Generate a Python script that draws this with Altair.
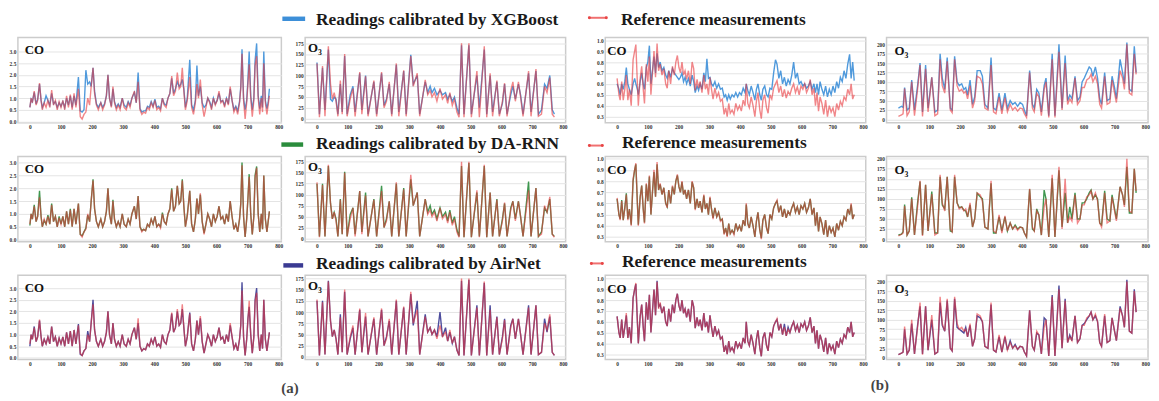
import altair as alt
import pandas as pd

SERIF = "Liberation Serif, DejaVu Serif, serif"

# ---------------- (a) CO ----------------
T_CO_A = [0, 4, 8, 14, 20, 25, 31, 36, 40, 46,
          52, 58, 64, 70, 76, 82, 88, 94, 100, 106,
          112, 118, 124, 130, 136, 142, 148, 156, 162, 168,
          174, 180, 186, 192, 197, 203, 208, 214, 220, 228,
          234, 240, 246, 251, 256, 262, 267, 272, 278, 284,
          290, 297, 303, 310, 316, 322, 328, 336, 342, 348,
          354, 360, 366, 372, 378, 384, 390, 396, 402, 408,
          414, 420, 426, 432, 438, 444, 450, 456, 462, 468,
          474, 480, 485, 490, 495, 500, 506, 514, 520, 526,
          532, 537, 542, 548, 554, 560, 566, 572, 578, 584,
          590, 596, 602, 608, 614, 620, 626, 632, 638, 644,
          650, 656, 662, 668, 674, 678, 682, 687, 692, 697,
          701, 705, 710, 715, 720, 724, 729, 734, 739, 744,
          748, 752, 757, 762, 766, 770]
REF_CO_A = [0.6, 1.0, 0.8, 1.3, 0.7, 0.9, 1.65, 0.9, 0.5, 0.8,
            0.6, 0.9, 0.6, 1.35, 0.7, 0.9, 0.5, 0.85, 0.6, 0.9,
            0.5, 1.1, 0.6, 1.15, 0.5, 1.2, 0.6, 1.4, 0.2, 0.1,
            0.3, 0.4, 1.0, 0.7, 1.5, 2.3, 1.2, 0.7, 0.5, 0.8,
            0.5, 0.7, 1.1, 2.0, 1.0, 0.6, 1.5, 0.8, 0.5, 0.7,
            0.5, 1.0, 0.6, 0.5, 0.8, 0.6, 1.0, 1.3, 0.8, 1.7,
            0.5, 0.3, 0.4, 0.35, 0.6, 0.5, 0.8, 0.6, 0.9, 0.5,
            0.6, 0.45, 1.0, 0.7, 0.6, 1.0, 1.2, 1.95, 1.1, 1.3,
            2.1, 1.4, 1.5, 2.3, 1.3, 0.5, 0.9, 1.9, 0.6, 0.3,
            0.8, 1.6, 1.0, 1.8, 0.7, 0.2, 0.6, 1.0, 0.8, 0.5,
            1.0, 0.7, 0.9, 1.3, 0.8, 0.9, 0.6, 1.0, 0.7, 1.5,
            0.9, 0.4, 0.6, 0.3, 0.8, 1.4, 2.9, 0.9, 0.1, 0.8,
            1.6, 2.45, 1.0, 0.2, 0.9, 2.4, 2.8, 1.0, 0.3, 1.0,
            0.4, 2.5, 0.8, 0.3, 0.7, 1.1]
XGB_CO_A = [0.6, 0.95, 0.85, 1.25, 0.75, 0.95, 1.6, 0.9, 0.6, 0.8,
            1.1, 0.9, 0.7, 1.2, 0.75, 0.85, 0.6, 0.8, 0.65, 0.85,
            0.6, 1.0, 0.7, 1.1, 0.6, 1.1, 0.7, 1.9, 0.45, 0.4,
            0.5, 2.2, 1.6, 1.7, 1.5, 2.3, 1.3, 0.75, 0.6, 0.8,
            0.6, 0.75, 1.1, 2.0, 1.0, 0.65, 1.4, 0.85, 0.6, 0.75,
            0.6, 1.0, 0.7, 0.6, 0.85, 0.7, 1.0, 1.25, 0.8, 2.1,
            0.55, 0.4, 0.45, 0.45, 0.65, 0.6, 0.85, 0.65, 0.95, 0.6,
            0.65, 0.55, 1.0, 0.75, 0.7, 1.0, 1.2, 1.85, 1.2, 1.4,
            1.7, 1.5, 1.6, 1.8, 1.4, 0.6, 1.0, 2.65, 0.7, 0.5,
            0.9, 2.4, 1.1, 1.5, 0.8, 0.6, 0.7, 1.0, 0.85, 0.6,
            1.0, 0.75, 0.9, 1.2, 0.85, 0.9, 0.7, 1.0, 0.75, 1.4,
            0.9, 0.5, 0.65, 0.45, 0.85, 1.5, 3.1, 1.0, 0.5, 0.9,
            1.8, 3.0, 1.1, 0.5, 1.0, 2.6, 3.35, 1.1, 0.55, 1.1,
            0.6, 3.0, 0.9, 0.55, 0.8, 1.4]
DARNN_CO_A = [0.55, 1.0, 0.8, 1.35, 0.7, 0.9, 1.9, 0.9, 0.5, 0.75,
              0.6, 0.95, 0.6, 1.4, 0.7, 0.9, 0.5, 0.9, 0.6, 0.9,
              0.5, 1.1, 0.6, 1.2, 0.5, 1.2, 0.6, 1.4, 0.2, 0.15,
              0.3, 0.45, 0.95, 0.7, 1.5, 2.35, 1.2, 0.7, 0.5, 0.8,
              0.5, 0.7, 1.1, 2.0, 1.0, 0.6, 1.55, 0.8, 0.5, 0.7,
              0.5, 1.0, 0.6, 0.5, 0.8, 0.6, 1.0, 1.3, 0.8, 1.7,
              0.5, 0.35, 0.4, 0.35, 0.6, 0.5, 0.8, 0.6, 0.9, 0.5,
              0.6, 0.5, 1.05, 0.7, 0.6, 1.0, 1.2, 2.0, 1.1, 1.3,
              2.1, 1.4, 1.5, 2.35, 1.3, 0.5, 0.95, 1.9, 0.6, 0.3,
              0.8, 1.6, 1.0, 1.75, 0.7, 0.25, 0.6, 1.0, 0.8, 0.5,
              1.0, 0.7, 0.9, 1.3, 0.8, 0.9, 0.6, 1.0, 0.7, 1.5,
              0.9, 0.4, 0.6, 0.3, 0.8, 1.4, 3.0, 0.9, 0.1, 0.8,
              1.6, 2.55, 1.0, 0.2, 0.9, 2.5, 2.85, 1.0, 0.3, 1.0,
              0.4, 2.5, 0.8, 0.3, 0.7, 1.1]
AIRNET_CO_A = [0.5, 1.0, 0.8, 1.35, 0.7, 0.9, 1.6, 0.9, 0.5, 0.8,
               0.6, 0.9, 0.6, 1.35, 0.7, 0.9, 0.5, 0.85, 0.6, 0.9,
               0.5, 1.1, 0.6, 1.15, 0.5, 1.2, 0.6, 1.45, 0.15, 0.1,
               0.3, 0.4, 1.15, 0.7, 1.5, 2.5, 1.2, 0.7, 0.5, 0.8,
               0.5, 0.7, 1.1, 2.0, 1.0, 0.6, 1.5, 0.8, 0.5, 0.7,
               0.5, 1.0, 0.6, 0.5, 0.8, 0.6, 1.0, 1.3, 0.8, 1.5,
               0.5, 0.3, 0.4, 0.35, 0.6, 0.5, 0.8, 0.6, 0.9, 0.5,
               0.6, 0.45, 1.0, 0.7, 0.6, 1.0, 1.2, 1.9, 1.1, 1.3,
               2.0, 1.4, 1.5, 2.1, 1.3, 0.5, 0.9, 1.95, 0.6, 0.3,
               0.8, 1.6, 1.0, 1.7, 0.7, 0.2, 0.6, 1.0, 0.8, 0.5,
               1.0, 0.7, 0.9, 1.3, 0.8, 0.9, 0.6, 1.0, 0.7, 1.4,
               0.9, 0.4, 0.6, 0.3, 0.8, 1.4, 3.25, 0.9, 0.1, 0.8,
               1.7, 2.2, 1.0, 0.2, 0.9, 2.5, 3.0, 1.0, 0.3, 1.0,
               0.4, 2.5, 0.8, 0.3, 0.7, 1.1]

# ---------------- (a) O3 ----------------
T_O3_A = [0, 8, 18, 26, 37, 44, 50, 56, 62, 68,
          76, 82, 90, 98, 108, 117, 124, 139, 146, 158,
          166, 185, 194, 210, 218, 226, 235, 243, 258, 266,
          282, 290, 305, 313, 326, 334, 352, 360, 368, 374,
          382, 390, 400, 408, 418, 425, 432, 440, 447, 455,
          462, 470, 478, 494, 502, 520, 528, 544, 552, 563,
          571, 585, 593, 603, 610, 618, 630, 637, 645, 655,
          662, 670, 688, 696, 712, 720, 730, 740, 748, 757,
          765, 772]
REF_O3_A = [128, 3, 122, 5, 168, 80, 45, 60, 40, 5,
            88, 10, 150, 5, 45, 70, 5, 108, 10, 98,
            5, 88, 5, 108, 25, 40, 85, 5, 128, 5,
            112, 5, 145, 75, 105, 5, 90, 55, 65, 50,
            60, 40, 70, 45, 55, 35, 60, 30, 45, 15,
            3, 175, 3, 175, 3, 110, 3, 168, 3, 105,
            5, 88, 5, 40, 82, 5, 65, 85, 40, 85,
            50, 5, 110, 5, 115, 5, 10, 75, 60, 95,
            10, 3]
XGB_O3_A = [130, 10, 118, 20, 160, 45, 40, 50, 45, 10,
            80, 15, 145, 10, 55, 75, 15, 105, 20, 100,
            10, 85, 10, 105, 30, 45, 80, 10, 125, 15,
            110, 10, 148, 80, 100, 10, 85, 60, 75, 60,
            70, 55, 65, 55, 60, 45, 55, 40, 50, 25,
            10, 170, 10, 170, 10, 100, 25, 160, 10, 100,
            15, 85, 10, 35, 80, 10, 55, 75, 45, 80,
            55, 10, 105, 15, 110, 10, 20, 80, 70, 100,
            20, 10]
DARNN_O3_A = [125, 5, 125, 5, 165, 80, 45, 60, 45, 5,
              90, 10, 152, 5, 55, 70, 10, 108, 15, 105,
              5, 90, 5, 120, 25, 45, 85, 5, 125, 5,
              115, 5, 135, 75, 105, 5, 90, 60, 75, 55,
              65, 45, 70, 50, 60, 40, 65, 35, 50, 20,
              5, 165, 3, 172, 3, 105, 5, 165, 3, 105,
              5, 90, 5, 45, 80, 5, 70, 85, 45, 85,
              50, 5, 130, 5, 115, 5, 15, 70, 60, 90,
              10, 5]
AIRNET_O3_A = [125, 3, 125, 5, 170, 80, 45, 60, 40, 5,
               95, 10, 145, 5, 40, 65, 5, 105, 10, 90,
               5, 85, 5, 105, 25, 45, 80, 5, 125, 5,
               110, 5, 140, 70, 125, 5, 95, 55, 65, 50,
               60, 45, 100, 45, 65, 35, 55, 30, 45, 15,
               3, 170, 3, 172, 3, 115, 3, 165, 3, 115,
               5, 90, 5, 45, 85, 5, 70, 85, 40, 85,
               50, 5, 115, 5, 115, 5, 10, 85, 55, 90,
               10, 3]

# ---------------- (b) CO ----------------
T_CO_B = [0, 6, 10, 15, 20, 25, 30, 35, 40, 46,
          52, 57, 61, 66, 69, 75, 80, 85, 89, 95,
          100, 105, 110, 115, 120, 125, 130, 135, 140, 146,
          152, 158, 163, 168, 174, 180, 186, 191, 196, 201,
          206, 211, 216, 221, 226, 232, 238, 244, 249, 254,
          260, 265, 270, 276, 282, 287, 292, 297, 302, 307,
          312, 318, 324, 330, 336, 342, 348, 353, 358, 363,
          368, 374, 380, 386, 392, 398, 404, 410, 416, 420,
          425, 430, 436, 442, 448, 453, 458, 464, 469, 474,
          480, 486, 491, 497, 503, 509, 515, 520, 526, 532,
          538, 544, 550, 556, 562, 568, 574, 580, 586, 592,
          598, 604, 610, 616, 622, 628, 634, 640, 645, 650,
          655, 660, 666, 672, 678, 684, 690, 696, 702, 708,
          714, 720, 726, 732, 738, 744, 750, 756, 761, 766,
          771]
REF_CO_B = [0.65, 0.5, 0.45, 0.62, 0.45, 0.55, 0.68, 0.45, 0.55, 0.4,
            0.82, 0.9, 0.96, 0.6, 0.4, 0.65, 0.76, 0.55, 0.42, 0.78,
            0.62, 0.85, 0.5, 0.7, 0.9, 0.66, 0.97, 0.72, 0.78, 0.68,
            0.74, 0.6, 0.56, 0.72, 0.6, 0.76, 0.68, 0.8, 0.86, 0.75,
            0.7, 0.8, 0.68, 0.72, 0.64, 0.72, 0.6, 0.8, 0.74, 0.54,
            0.64, 0.56, 0.62, 0.52, 0.68, 0.55, 0.6, 0.5, 0.66, 0.55,
            0.46, 0.56, 0.48, 0.52, 0.44, 0.46, 0.32, 0.38, 0.3, 0.42,
            0.33, 0.36, 0.32, 0.42, 0.36, 0.4, 0.35, 0.45, 0.4, 0.6,
            0.42, 0.38, 0.48, 0.4, 0.3, 0.44, 0.52, 0.36, 0.28, 0.45,
            0.5, 0.38, 0.33, 0.5, 0.46, 0.56, 0.6, 0.63, 0.52, 0.58,
            0.48, 0.55, 0.47, 0.53, 0.5, 0.56, 0.6, 0.52, 0.57, 0.5,
            0.58, 0.55, 0.6, 0.52, 0.56, 0.64, 0.5, 0.56, 0.4, 0.52,
            0.35, 0.48, 0.42, 0.32, 0.45, 0.3, 0.4, 0.34, 0.38, 0.3,
            0.42, 0.36, 0.44, 0.4, 0.48, 0.45, 0.55, 0.5, 0.6, 0.46,
            0.5]
XGB_CO_B = [0.6, 0.55, 0.5, 0.6, 0.55, 0.62, 0.75, 0.6, 0.55, 0.5,
            0.6, 0.65, 0.6, 0.55, 0.5, 0.62, 0.7, 0.6, 0.55, 0.75,
            0.8, 0.95, 0.6, 0.72, 0.85, 0.7, 0.88, 0.75, 0.8, 0.72,
            0.75, 0.68, 0.65, 0.72, 0.66, 0.74, 0.7, 0.68, 0.66, 0.64,
            0.66, 0.7, 0.62, 0.66, 0.6, 0.65, 0.58, 0.68, 0.62, 0.52,
            0.58, 0.54, 0.6, 0.55, 0.7, 0.62, 0.83, 0.65, 0.66, 0.6,
            0.58, 0.62, 0.56, 0.6, 0.55, 0.56, 0.48, 0.5, 0.45, 0.5,
            0.46, 0.5, 0.48, 0.52, 0.48, 0.52, 0.5, 0.56, 0.52, 0.6,
            0.54, 0.5, 0.58, 0.52, 0.45, 0.55, 0.6, 0.5, 0.45, 0.55,
            0.58, 0.5, 0.48, 0.56, 0.55, 0.7, 0.82, 0.78, 0.65, 0.72,
            0.6, 0.66, 0.58, 0.64, 0.6, 0.68, 0.8, 0.65, 0.7, 0.6,
            0.62, 0.58, 0.6, 0.56, 0.58, 0.62, 0.55, 0.6, 0.52, 0.6,
            0.5, 0.62, 0.55, 0.5, 0.58, 0.48, 0.55, 0.5, 0.58, 0.52,
            0.62, 0.56, 0.66, 0.62, 0.72, 0.65, 0.78, 0.87, 0.65, 0.8,
            0.63]
DARNN_CO_B = [0.64, 0.5, 0.46, 0.63, 0.45, 0.56, 0.69, 0.46, 0.55, 0.41,
              0.8, 0.9, 0.95, 0.6, 0.41, 0.66, 0.76, 0.55, 0.43, 0.77,
              0.62, 0.84, 0.5, 0.7, 0.88, 0.66, 0.95, 0.72, 0.77, 0.68,
              0.74, 0.6, 0.57, 0.72, 0.6, 0.75, 0.68, 0.8, 0.85, 0.75,
              0.7, 0.79, 0.68, 0.72, 0.64, 0.72, 0.6, 0.79, 0.74, 0.55,
              0.64, 0.56, 0.62, 0.52, 0.67, 0.55, 0.6, 0.5, 0.65, 0.55,
              0.47, 0.56, 0.48, 0.52, 0.45, 0.46, 0.33, 0.38, 0.31, 0.42,
              0.33, 0.36, 0.33, 0.42, 0.36, 0.4, 0.35, 0.45, 0.4, 0.59,
              0.42, 0.38, 0.48, 0.4, 0.3, 0.44, 0.52, 0.36, 0.29, 0.45,
              0.5, 0.38, 0.33, 0.5, 0.46, 0.56, 0.6, 0.62, 0.52, 0.58,
              0.48, 0.55, 0.47, 0.53, 0.5, 0.56, 0.6, 0.52, 0.57, 0.5,
              0.58, 0.55, 0.6, 0.52, 0.56, 0.64, 0.5, 0.56, 0.4, 0.52,
              0.35, 0.48, 0.42, 0.32, 0.45, 0.3, 0.4, 0.34, 0.38, 0.3,
              0.42, 0.36, 0.44, 0.4, 0.48, 0.45, 0.55, 0.5, 0.59, 0.46,
              0.5]
AIRNET_CO_B = [0.65, 0.5, 0.45, 0.62, 0.45, 0.55, 0.66, 0.45, 0.55, 0.4,
               0.82, 0.9, 0.95, 0.6, 0.4, 0.65, 0.76, 0.55, 0.42, 0.78,
               0.62, 0.85, 0.5, 0.7, 0.9, 0.66, 0.98, 0.74, 0.76, 0.68,
               0.74, 0.6, 0.56, 0.72, 0.6, 0.76, 0.68, 0.8, 0.86, 0.75,
               0.7, 0.8, 0.68, 0.72, 0.64, 0.72, 0.6, 0.8, 0.74, 0.54,
               0.64, 0.56, 0.62, 0.52, 0.68, 0.55, 0.6, 0.5, 0.66, 0.55,
               0.46, 0.56, 0.48, 0.52, 0.44, 0.46, 0.32, 0.38, 0.3, 0.42,
               0.33, 0.36, 0.32, 0.42, 0.36, 0.4, 0.35, 0.45, 0.4, 0.6,
               0.42, 0.38, 0.48, 0.4, 0.3, 0.44, 0.52, 0.36, 0.28, 0.45,
               0.5, 0.38, 0.33, 0.5, 0.46, 0.56, 0.6, 0.62, 0.52, 0.58,
               0.48, 0.58, 0.47, 0.55, 0.5, 0.56, 0.6, 0.52, 0.57, 0.5,
               0.58, 0.55, 0.6, 0.52, 0.56, 0.64, 0.5, 0.56, 0.4, 0.52,
               0.35, 0.48, 0.42, 0.32, 0.45, 0.3, 0.4, 0.34, 0.38, 0.3,
               0.42, 0.36, 0.44, 0.4, 0.48, 0.45, 0.55, 0.5, 0.6, 0.46,
               0.5]

# ---------------- (b) O3 ----------------
T_O3_B = [0, 10, 15, 20, 28, 35, 43, 52, 62, 70,
          78, 88, 96, 108, 118, 127, 135, 142, 150, 158,
          168, 174, 182, 190, 197, 205, 212, 218, 224, 232,
          240, 247, 255, 265, 272, 280, 290, 300, 308, 316,
          326, 335, 345, 353, 362, 370, 378, 386, 394, 402,
          408, 415, 425, 434, 440, 448, 455, 463, 472, 478,
          487, 498, 507, 520, 530, 540, 548, 555, 562, 572,
          580, 588, 595, 602, 610, 618, 624, 630, 638, 645,
          652, 658, 668, 676, 685, 692, 700, 706, 718, 726,
          732, 740, 748, 756, 764, 770]
REF_O3_B = [8, 12, 15, 82, 10, 20, 100, 10, 80, 145,
            8, 135, 20, 112, 10, 15, 160, 90, 70, 155,
            25, 18, 160, 90, 75, 80, 70, 75, 55, 90,
            30, 50, 115, 110, 95, 30, 25, 145, 20, 15,
            60, 15, 58, 20, 40, 25, 32, 22, 30, 28,
            15, 5, 125, 30, 20, 70, 60, 10, 80, 100,
            5, 160, 5, 180, 25, 150, 40, 55, 45, 110,
            40, 50, 85, 85, 105, 110, 120, 100, 115, 95,
            40, 30, 115, 40, 45, 105, 70, 45, 130, 110,
            80, 200, 70, 65, 175, 120]
XGB_O3_B = [30, 35, 32, 85, 25, 30, 105, 25, 90, 150,
            20, 145, 30, 112, 20, 25, 175, 110, 80, 165,
            30, 25, 168, 100, 90, 95, 80, 85, 65, 105,
            40, 60, 130, 130, 115, 40, 30, 165, 30, 25,
            70, 25, 70, 30, 50, 40, 45, 35, 45, 40,
            25, 10, 130, 40, 30, 80, 70, 20, 90, 110,
            10, 175, 10, 200, 30, 170, 50, 65, 55, 115,
            50, 60, 100, 110, 125, 140, 135, 115, 140, 110,
            55, 40, 125, 50, 55, 115, 85, 55, 160, 125,
            95, 205, 80, 75, 195, 125]
DARNN_O3_B = [10, 12, 18, 86, 10, 20, 104, 10, 90, 143,
              10, 135, 20, 118, 15, 15, 155, 85, 75, 155,
              20, 18, 155, 90, 78, 80, 72, 70, 55, 85,
              30, 50, 114, 105, 100, 30, 25, 139, 15, 15,
              55, 20, 55, 20, 40, 25, 35, 25, 30, 28,
              15, 5, 124, 25, 20, 75, 60, 10, 122, 100,
              5, 151, 5, 171, 30, 115, 40, 80, 50, 115,
              50, 50, 90, 90, 100, 115, 122, 100, 110, 100,
              40, 35, 120, 50, 45, 110, 75, 50, 130, 110,
              85, 180, 65, 65, 175, 115]
AIRNET_O3_B = [8, 12, 15, 75, 10, 20, 90, 10, 85, 135,
               10, 135, 20, 100, 10, 15, 145, 85, 70, 150,
               25, 18, 155, 80, 75, 70, 65, 80, 55, 85,
               30, 50, 110, 105, 95, 30, 25, 140, 20, 15,
               55, 15, 55, 20, 45, 25, 35, 22, 30, 28,
               15, 5, 125, 30, 20, 65, 60, 10, 105, 100,
               5, 165, 5, 190, 25, 155, 40, 60, 45, 110,
               40, 50, 85, 90, 100, 110, 120, 100, 110, 95,
               40, 30, 110, 40, 45, 105, 70, 45, 135, 110,
               80, 205, 70, 65, 180, 120]

# ---------------- labels / ticks ----------------
X_TICKS = [0, 100, 200, 300, 400, 500, 600, 700, 800]
CO_A_TICKS = [0.0, 0.5, 1.0, 1.5, 2.0, 2.5, 3.0]
O3_A_TICKS = [0, 25, 50, 75, 100, 125, 150, 175]
CO_B_TICKS = [0.3, 0.4, 0.5, 0.6, 0.7, 0.8, 0.9, 1.0]
O3_B_TICKS = [0, 25, 50, 75, 100, 125, 150, 175, 200]
LEGEND_MODELS = ["Readings calibrated by XGBoost", "Readings calibrated by DA-RNN",
                 "Readings calibrated by AirNet"]
LEGEND_REF = "Reference measurements"
PART_LABELS = ["(a)", "(b)"]

REF_COLOR = "#e8363a"
CAL_COLORS = ["#3d8fd8", "#2a8c3c", "#3a3a92"]

COLS = [
    dict(t=T_CO_A, ref=REF_CO_A, cal=[XGB_CO_A, DARNN_CO_A, AIRNET_CO_A],
         label="CO", ticks=CO_A_TICKS, fmt=".1f"),
    dict(t=T_O3_A, ref=REF_O3_A, cal=[XGB_O3_A, DARNN_O3_A, AIRNET_O3_A],
         label="O₃", ticks=O3_A_TICKS, fmt="d"),
    dict(t=T_CO_B, ref=REF_CO_B, cal=[XGB_CO_B, DARNN_CO_B, AIRNET_CO_B],
         label="CO", ticks=CO_B_TICKS, fmt=".1f"),
    dict(t=T_O3_B, ref=REF_O3_B, cal=[XGB_O3_B, DARNN_O3_B, AIRNET_O3_B],
         label="O₃", ticks=O3_B_TICKS, fmt="d"),
]

Y_DOMAINS = [
    [(-0.06, 3.6), (-10, 188), (0.243, 1.024), (-9, 218)],
    [(-0.08, 3.24), (-7, 187), (0.258, 1.02), (-6.4, 205.6)],
    [(-0.07, 3.55), (-6, 182), (0.25, 1.031), (-4.5, 216.6)],
]
X_DOMAIN = [-38.5, 808.5]
WIDTHS = [266, 263, 263, 264]
GAPS = [9, 24, 40, 21]          # blank space left of each panel
HEIGHTS = [86, 86, 85]
ROW_GAP = 34
LAB_X = [7, 3, 2, 8]
LAB_Y = [13, 11, 14, 14]
LEGEND_SIZE = 17.5

# legend placement relative to the panel it is attached to (per row)
CAL_SWATCH = [(-23, 0, -19), (-24, -2, -12), (-22, -2, -10)]
CAL_TEXT = [(11, -18), (11, -13), (11, -11)]
REF_SWATCH = [(-17, 2, -20), (-17, -2, -11), (-15, -2, -12)]
REF_TEXT = [(16, -18), (17, -14), (17, -13)]

ONE = pd.DataFrame({"k": [0]})
CLEAR = alt.ViewBackground(stroke="transparent")


def txt(s, x, y, size, color):
    return alt.Chart(ONE).mark_text(
        text=s, align="left", baseline="middle", font=SERIF, fontWeight="bold",
        fontSize=size, color=color).encode(x=alt.value(x), y=alt.value(y))


def panel(r, c):
    col = COLS[c]
    df = pd.DataFrame({"t": col["t"], "ref": col["ref"], "cal": col["cal"][r]})
    xs = alt.Scale(domain=X_DOMAIN, nice=False, zero=False)
    ys = alt.Scale(domain=list(Y_DOMAINS[r][c]), nice=False, zero=False)
    xa = alt.Axis(values=X_TICKS, title=None, grid=False, ticks=False, domain=False,
                  labelPadding=2, labelFlush=False)
    ya = alt.Axis(values=col["ticks"], format=col["fmt"], title=None, grid=True,
                  ticks=False, domain=False, labelPadding=2)
    base = alt.Chart(df)
    cal = base.mark_line(color=CAL_COLORS[r], strokeWidth=1.4, opacity=0.9, clip=True).encode(
        x=alt.X("t:Q", scale=xs, axis=xa), y=alt.Y("cal:Q", scale=ys, axis=ya))
    ref = base.mark_line(color=REF_COLOR, strokeWidth=1.4, opacity=0.6, clip=True).encode(
        x=alt.X("t:Q", scale=xs, axis=xa), y=alt.Y("ref:Q", scale=ys, axis=ya))
    layers = [cal, ref, txt(col["label"], LAB_X[c], LAB_Y[c], 13, "#111")]
    if c == 1:
        x1, x2, y = CAL_SWATCH[r]
        layers.append(alt.Chart(ONE).mark_rule(color=CAL_COLORS[r], strokeWidth=4.5).encode(
            x=alt.value(x1), x2=alt.value(x2), y=alt.value(y)))
        layers.append(txt(LEGEND_MODELS[r], CAL_TEXT[r][0], CAL_TEXT[r][1], LEGEND_SIZE,
                          "#1a1a1a"))
        if r == 2:
            layers.append(txt(PART_LABELS[0], -24, HEIGHTS[r] + 29, 15, "#444"))
    if c == 2:
        x1, x2, y = REF_SWATCH[r]
        layers.append(alt.Chart(ONE).mark_rule(color="#f07070", strokeWidth=2).encode(
            x=alt.value(x1), x2=alt.value(x2), y=alt.value(y)))
        layers.append(alt.Chart(pd.DataFrame({"px": [x1 + 1, x2 - 1]})).mark_circle(
            color="#e84545", size=9, opacity=1).encode(x=alt.X("px:Q", scale=None),
                                                       y=alt.value(y)))
        layers.append(txt(LEGEND_REF, REF_TEXT[r][0], REF_TEXT[r][1], LEGEND_SIZE, "#1a1a1a"))
    if c == 3 and r == 2:
        layers.append(txt(PART_LABELS[1], -16, HEIGHTS[r] + 26, 15, "#444"))
    return alt.layer(*layers).properties(width=WIDTHS[c], height=HEIGHTS[r])


def spacer(w):
    return alt.Chart(ONE).mark_text(text=" ").encode(
        x=alt.value(0), y=alt.value(0)).properties(width=w, height=1, view=CLEAR)


cells = []
for r in range(3):
    for c in range(4):
        cells.append(spacer(GAPS[c]))
        cells.append(panel(r, c))

chart = alt.concat(*cells, columns=8, spacing=alt.RowColnumber(row=ROW_GAP, column=0),
                   bounds="flush").properties(
    padding=0
).configure_view(stroke="#cccccc", strokeWidth=1.5).configure_axis(
    labelFont=SERIF, labelFontWeight="bold", labelFontSize=5.5, labelColor="#333",
    gridColor="#e4e4e4", gridWidth=1
)

chart.save("out.html", embed_options={"renderer": "svg", "actions": False})
